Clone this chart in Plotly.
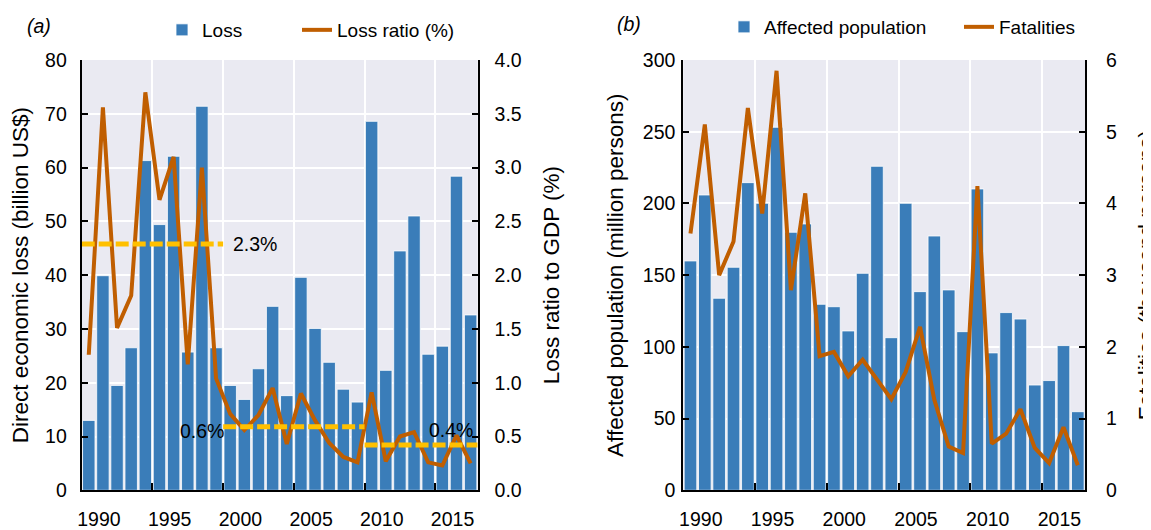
import plotly.graph_objects as go

# ---------------- data ----------------
years = list(range(1990, 2018))

loss = [13.0, 39.9, 19.5, 26.5, 61.3, 49.4, 62.1, 25.7, 71.4, 26.5,
        19.5, 16.9, 22.6, 34.2, 17.6, 39.6, 30.1, 23.8, 18.8, 16.4,
        68.6, 22.3, 44.5, 51.0, 25.3, 26.8, 58.4, 32.6]

loss_ratio = [1.26, 3.56, 1.51, 1.81, 3.70, 2.70, 3.10, 1.17, 3.00, 1.04,
              0.71, 0.56, 0.70, 0.95, 0.43, 0.90, 0.65, 0.44, 0.31, 0.26,
              0.91, 0.27, 0.50, 0.54, 0.26, 0.23, 0.51, 0.25]

period_start = [1989.5, 1999.5, 2009.5]
period_end = [1999.5, 2009.5, 2017.5]
period_mean = [2.29, 0.59, 0.42]
period_label = ["2.3%", "0.6%", "0.4%"]

affected = [159.9, 205.9, 133.9, 155.5, 214.5, 200.1, 253.1, 179.9, 185.7, 129.7,
            128.0, 111.1, 151.3, 225.9, 106.4, 200.1, 138.5, 177.3, 139.7, 110.6,
            210.1, 95.8, 123.9, 119.4, 73.4, 76.5, 100.9, 54.8]

fatalities = [3.58, 5.10, 3.00, 3.47, 5.33, 3.86, 5.85, 2.79, 4.14, 1.87,
              1.93, 1.59, 1.82, 1.54, 1.27, 1.65, 2.28, 1.26, 0.61, 0.52,
              4.24, 0.65, 0.79, 1.13, 0.59, 0.38, 0.88, 0.35]

tick_years = [1990, 1995, 2000, 2005, 2010, 2015]

# ---------------- style ----------------
PAGE_OFF = 8                      # default body margin of the html page
W, H = 1151 - PAGE_OFF + 20, 530 - PAGE_OFF   # a little wider so the right title can run off the edge
BLUE = "#3A7DB9"
ORANGE = "#C05E00"
GOLD = "#FFC000"
BG = "#EAEAF2"
FONT = "Liberation Sans, Arial, sans-serif"
TICK_FS = 19.5
TITLE_FS = 22.5
LABEL_SHIFT = 0.72   # label position offset relative to year


def px_x(p):
    """page pixel x -> paper fraction"""
    return (p - PAGE_OFF) / W


def px_y(p):
    """page pixel y -> paper fraction"""
    return 1 - (p - PAGE_OFF) / H


Y_DOM = [px_y(490.3), px_y(60)]
XA_DOM = [px_x(81.7), px_x(477.7)]
XB_DOM = [px_x(683.3), px_x(1085)]

fig = go.Figure()

# panel (a)
fig.add_trace(go.Bar(
    x=years, y=loss, name="Loss", xaxis="x", yaxis="y", legend="legend",
    marker=dict(color=BLUE, line=dict(color="white", width=0.8))))
fig.add_trace(go.Scatter(
    x=years, y=loss_ratio, name="Loss ratio (%)", mode="lines",
    xaxis="x", yaxis="y2", legend="legend2",
    line=dict(color=ORANGE, width=4)))
for s, e, m in zip(period_start, period_end, period_mean):
    fig.add_trace(go.Scatter(
        x=[s, e], y=[m, m], mode="lines", xaxis="x", yaxis="y2",
        showlegend=False, hoverinfo="skip",
        line=dict(color=GOLD, width=5, dash="13px,4px")))

# panel (b)
fig.add_trace(go.Bar(
    x=years, y=affected, name="Affected population", xaxis="x2", yaxis="y3",
    legend="legend3",
    marker=dict(color=BLUE, line=dict(color="white", width=0.8))))
fig.add_trace(go.Scatter(
    x=years, y=fatalities, name="Fatalities", mode="lines",
    xaxis="x2", yaxis="y4", legend="legend4",
    line=dict(color=ORANGE, width=4)))

tickfont = dict(family=FONT, size=TICK_FS, color="black")
titlefont = dict(family=FONT, size=TITLE_FS, color="black")


def xaxis(domain, anchor):
    return dict(
        domain=domain, anchor=anchor, range=[1989.5, 2017.5], automargin=False,
        tickmode="array",
        tickvals=[y + LABEL_SHIFT for y in tick_years],
        ticktext=[str(y) for y in tick_years],
        ticks="", showgrid=False, zeroline=False,
        showline=True, linecolor="black", linewidth=2,
        tickfont=tickfont, ticklabelstandoff=10,
        minor=dict(tickmode="array", tickvals=[y - 0.5 for y in tick_years[1:]],
                   ticks="inside", ticklen=7, tickwidth=1.5, tickcolor="black",
                   showgrid=True, gridcolor="white", gridwidth=1.5),
    )


def yaxis_left(anchor, rng, dtick, title, standoff, lstand, fmt=None):
    d = dict(
        domain=Y_DOM, anchor=anchor, range=rng, dtick=dtick, tick0=0,
        automargin=False,
        ticks="inside", ticklen=6, tickwidth=1.5, tickcolor="black",
        showline=True, linecolor="black", linewidth=2,
        showgrid=True, gridcolor="white", gridwidth=1.5, zeroline=False,
        tickfont=tickfont, ticklabelstandoff=lstand,
        title=dict(text=title, font=titlefont, standoff=standoff),
    )
    if fmt:
        d["tickformat"] = fmt
    return d


def yaxis_right(overlay, anchor, rng, dtick, title, standoff, lstand, fmt=None):
    d = dict(
        overlaying=overlay, side="right", anchor=anchor, range=rng, dtick=dtick,
        tick0=0, automargin=False,
        ticks="inside", ticklen=6, tickwidth=1.5, tickcolor="black",
        showline=True, linecolor="black", linewidth=2,
        showgrid=False, zeroline=False,
        tickfont=tickfont, ticklabelstandoff=lstand,
        title=dict(text=title, font=titlefont, standoff=standoff),
    )
    if fmt:
        d["tickformat"] = fmt
    return d


def legend(xpx, ypx):
    return dict(x=px_x(xpx), y=px_y(ypx), xanchor="left", yanchor="middle",
                orientation="h", bgcolor="rgba(0,0,0,0)", borderwidth=0,
                font=dict(family=FONT, size=19, color="black"))


annotations = [
    dict(text="(a)", x=px_x(38.5), y=px_y(26), xref="paper", yref="paper",
         showarrow=False, xanchor="center", yanchor="middle",
         font=dict(family=FONT, size=19.5, color="black", style="italic")),
    dict(text="(b)", x=px_x(629), y=px_y(24), xref="paper", yref="paper",
         showarrow=False, xanchor="center", yanchor="middle",
         font=dict(family=FONT, size=19.5, color="black", style="italic")),
]
lab_pos = [(2000.05, 2.29, "left"), (1999.68, 0.55, "right"), (2013.9, 0.56, "left")]
for (xx, yy, anc), txt in zip(lab_pos, period_label):
    annotations.append(dict(text=txt, x=xx, y=yy, xref="x", yref="y2",
                            showarrow=False, xanchor=anc, yanchor="middle",
                            font=dict(family=FONT, size=19.5, color="black")))

fig.update_layout(
    width=W, height=H, margin=dict(l=0, r=0, t=0, b=0, autoexpand=False),
    paper_bgcolor="white", plot_bgcolor=BG,
    font=dict(family=FONT, color="black"),
    bargap=0.12,
    xaxis=xaxis(XA_DOM, "y"),
    xaxis2=xaxis(XB_DOM, "y3"),
    yaxis=yaxis_left("x", [0, 80], 10, "Direct economic loss (billion US$)", 12, 9),
    yaxis2=yaxis_right("y", "x", [0, 4], 0.5, "Loss ratio to GDP (%)", 22, 11, ".1f"),
    yaxis3=yaxis_left("x2", [0, 300], 50, "Affected population (million persons)", 13, 2),
    yaxis4=yaxis_right("y3", "x2", [0, 6], 1, "Fatalities (thousand persons)", 22, 15),
    legend=legend(162, 30),
    legend2=legend(297, 30),
    legend3=legend(724, 27),
    legend4=legend(959, 27),
    annotations=annotations,
    showlegend=True,
)

fig.write_html("out.html")
